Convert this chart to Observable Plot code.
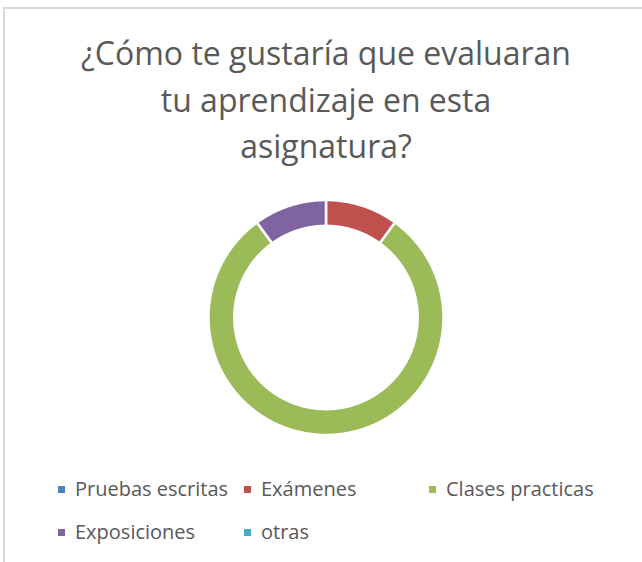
<!DOCTYPE html>
<html>
<head>
<meta charset="utf-8">
<script src="https://cdn.jsdelivr.net/npm/d3@7"></script>
<script src="https://cdn.jsdelivr.net/npm/@observablehq/plot@0.6"></script>
<style>
  html, body { margin: 0; padding: 0; background: #fff; }
  #wrap { position: relative; width: 642px; height: 562px; overflow: hidden; font-family: "Open Sans", sans-serif; color: #595959; }
  #frame { position: absolute; left: 3px; top: 7px; width: 700px; height: 700px; border-left: 2px solid #d9d9d9; border-top: 2px solid #d9d9d9; box-sizing: border-box; }
  #title { position: absolute; left: 0; width: 652px; top: 30px; text-align: center; font-size: 32px; line-height: 46.5px; }
  #chart { position: absolute; left: 0; top: 0; }
  .leg { position: absolute; font-size: 20px; white-space: nowrap; line-height: 20px; }
  .sw { position: absolute; width: 7px; height: 7px; }
</style>
</head>
<body>
<div id="wrap">
  <div id="frame"></div>
  <div id="chart"></div>
  <div id="title">¿Cómo te gustaría que evaluaran<br>tu aprendizaje en esta<br>asignatura?</div>
  <div id="legend"></div>
</div>
<script>
const categories = ["Pruebas escritas", "Exámenes", "Clases practicas", "Exposiciones", "otras"];
const values = [0, 10, 80, 10, 0];
const colors = ["#4f81bd", "#c0504d", "#9bbb59", "#8064a2", "#4bacc6"];
// legend layout (row, left of marker)
const legendRow = [0, 0, 0, 1, 1];
const legendX = [58, 244, 429, 58, 244];

const outerR = 1, innerR = 0.78;
const arcs = d3.pie().sort(null).value((d, i) => values[i])(categories);
const pts = [];
arcs.forEach((a, i) => {
  if (a.endAngle - a.startAngle <= 0) return;
  const n = Math.max(8, Math.ceil((a.endAngle - a.startAngle) / 0.01));
  const ring = [];
  for (let k = 0; k <= n; k++) {
    const t = a.startAngle + (a.endAngle - a.startAngle) * k / n;
    ring.push({cat: categories[i], x: outerR * Math.sin(t), y: outerR * Math.cos(t)});
  }
  for (let k = n; k >= 0; k--) {
    const t = a.startAngle + (a.endAngle - a.startAngle) * k / n;
    ring.push({cat: categories[i], x: innerR * Math.sin(t), y: innerR * Math.cos(t)});
  }
  pts.push(...ring);
});

const W = 642, H = 562;
const cx = 325.5, cy = 317, R = 117.5;
const plot = Plot.plot({
  width: W, height: H,
  marginLeft: cx - R, marginRight: W - cx - R,
  marginTop: cy - R, marginBottom: H - cy - R,
  x: {domain: [-1, 1], axis: null},
  y: {domain: [-1, 1], axis: null},
  color: {domain: categories, range: colors},
  style: {background: "transparent"},
  marks: [
    Plot.line(pts, {x: "x", y: "y", z: "cat", fill: "cat", stroke: "white", strokeWidth: 2.5, curve: "linear-closed"})
  ]
});
document.getElementById("chart").appendChild(plot);

const leg = document.getElementById("legend");
categories.forEach((c, i) => {
  const y = legendRow[i] === 0 ? 490 : 533;
  const sw = document.createElement("div");
  sw.className = "sw";
  sw.style.left = legendX[i] + "px";
  sw.style.top = (y - 4) + "px";
  sw.style.background = colors[i];
  leg.appendChild(sw);
  const t = document.createElement("div");
  t.className = "leg";
  t.style.left = (legendX[i] + 17) + "px";
  t.style.top = (y - 11) + "px";
  t.textContent = c;
  leg.appendChild(t);
});
</script>
</body>
</html>
